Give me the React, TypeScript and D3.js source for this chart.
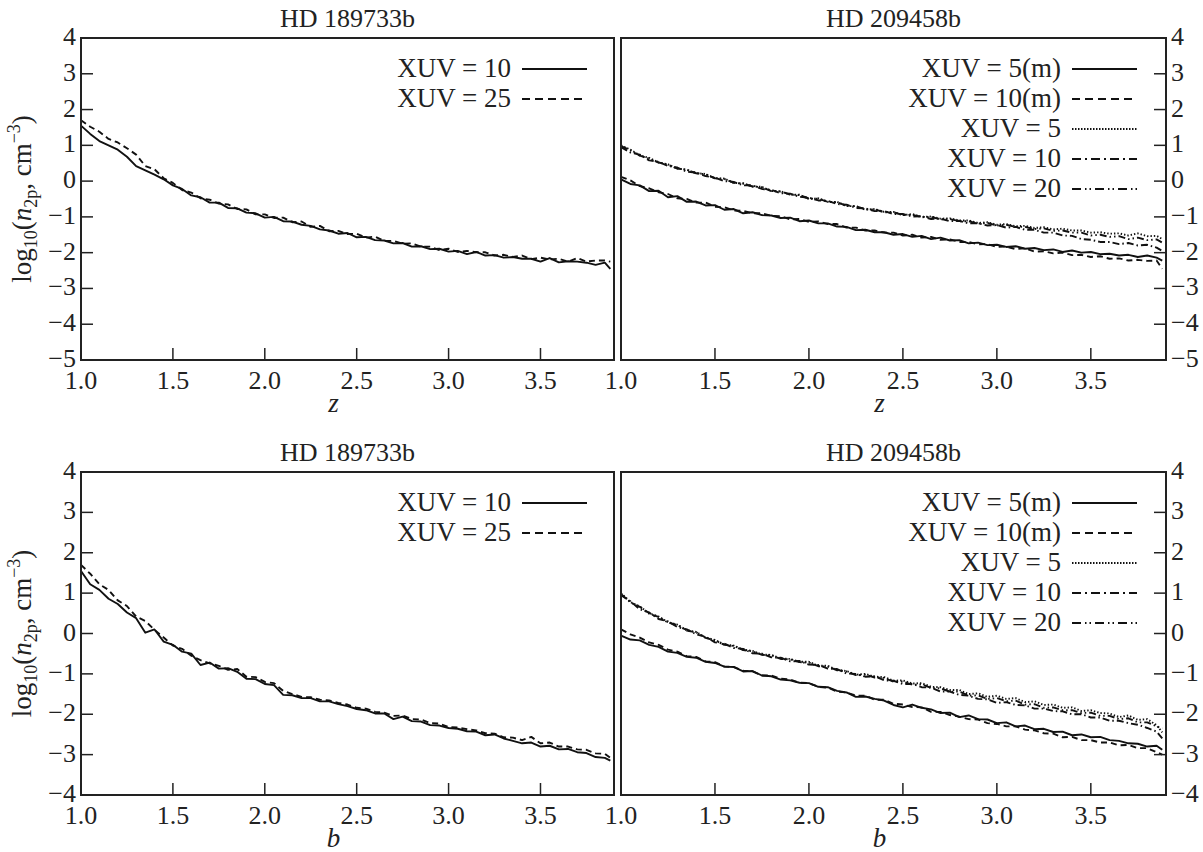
import * as d3 from "d3";
import React from "react";

// abscissa grid shared by every curve (z or b)
const GRID = [
  1.0, 1.05, 1.1, 1.15, 1.2, 1.25, 1.3, 1.35, 1.4, 1.45, 1.5, 1.55, 1.6, 1.65, 1.7, 1.75, 1.8, 1.85, 1.9, 1.95,
  2.0, 2.05, 2.1, 2.15, 2.2, 2.25, 2.3, 2.35, 2.4, 2.45, 2.5, 2.55, 2.6, 2.65, 2.7, 2.75, 2.8, 2.85, 2.9, 2.95,
  3.0, 3.05, 3.1, 3.15, 3.2, 3.25, 3.3, 3.35, 3.4, 3.45, 3.5, 3.55, 3.6, 3.65, 3.7, 3.75, 3.8, 3.85, 3.88,
];

// HD 189733b, z
const tlXuv10 = [
  1.55, 1.32, 1.12, 1.0, 0.88, 0.68, 0.42, 0.3, 0.18, 0.05, -0.12, -0.22, -0.4, -0.45, -0.6, -0.6, -0.75, -0.76, -0.88, -0.9,
  -1.02, -1.0, -1.12, -1.13, -1.22, -1.25, -1.35, -1.38, -1.47, -1.45, -1.57, -1.56, -1.65, -1.66, -1.74, -1.73, -1.83, -1.82, -1.9, -1.89,
  -1.97, -1.95, -2.04, -1.98, -2.08, -2.07, -2.14, -2.12, -2.17, -2.17, -2.25, -2.15, -2.27, -2.24, -2.25, -2.28, -2.34, -2.28, -2.45,
];
const tlXuv25 = [
  1.7, 1.52, 1.38, 1.18, 1.08, 0.92, 0.74, 0.42, 0.33, 0.08, -0.05, -0.25, -0.32, -0.48, -0.52, -0.63, -0.65, -0.78, -0.79, -0.93,
  -0.93, -1.03, -1.02, -1.15, -1.13, -1.28, -1.25, -1.4, -1.39, -1.48, -1.47, -1.58, -1.55, -1.67, -1.67, -1.75, -1.74, -1.83, -1.83, -1.93,
  -1.89, -1.98, -1.95, -1.99, -1.99, -2.08, -2.06, -2.12, -2.08, -2.18, -2.14, -2.19, -2.17, -2.25, -2.15, -2.25, -2.22, -2.22, -2.25,
];

// HD 209458b, z
const trXuv5m = [
  0.05, -0.08, -0.12, -0.28, -0.27, -0.45, -0.42, -0.58, -0.57, -0.68, -0.67, -0.8, -0.78, -0.9, -0.87, -0.95, -0.96, -1.03, -1.02, -1.12,
  -1.1, -1.18, -1.18, -1.27, -1.28, -1.37, -1.36, -1.43, -1.43, -1.5, -1.48, -1.56, -1.53, -1.62, -1.58, -1.66, -1.65, -1.74, -1.72, -1.79,
  -1.78, -1.84, -1.82, -1.89, -1.87, -1.93, -1.91, -1.98, -1.94, -2.0, -1.98, -2.04, -2.03, -2.08, -2.06, -2.12, -2.08, -2.14, -2.22,
];
const trXuv10m = [
  0.12, 0.02, -0.14, -0.2, -0.31, -0.36, -0.48, -0.5, -0.6, -0.6, -0.72, -0.73, -0.82, -0.83, -0.9, -0.9, -0.97, -0.98, -1.07, -1.06,
  -1.14, -1.13, -1.2, -1.2, -1.3, -1.3, -1.38, -1.38, -1.44, -1.44, -1.52, -1.5, -1.58, -1.56, -1.64, -1.63, -1.7, -1.7, -1.77, -1.76,
  -1.84, -1.83, -1.9, -1.88, -1.97, -1.96, -2.02, -2.0, -2.07, -2.06, -2.12, -2.1, -2.17, -2.16, -2.22, -2.2, -2.23, -2.22, -2.45,
];
const trXuv5 = [
  1.0, 0.88, 0.72, 0.65, 0.52, 0.47, 0.35, 0.32, 0.22, 0.2, 0.08, 0.07, -0.05, -0.06, -0.15, -0.16, -0.28, -0.28, -0.38, -0.38,
  -0.5, -0.48, -0.58, -0.58, -0.7, -0.7, -0.8, -0.78, -0.86, -0.86, -0.95, -0.92, -1.0, -0.99, -1.05, -1.04, -1.1, -1.1, -1.17, -1.15,
  -1.22, -1.2, -1.26, -1.25, -1.31, -1.29, -1.35, -1.33, -1.38, -1.38, -1.44, -1.43, -1.47, -1.46, -1.52, -1.46, -1.54, -1.53, -1.62,
];
const trXuv10 = [
  0.95, 0.8, 0.74, 0.58, 0.54, 0.42, 0.38, 0.26, 0.24, 0.14, 0.1, 0.0, -0.02, -0.12, -0.12, -0.22, -0.24, -0.34, -0.35, -0.44,
  -0.46, -0.54, -0.55, -0.64, -0.66, -0.75, -0.76, -0.84, -0.84, -0.92, -0.92, -0.99, -0.98, -1.06, -1.05, -1.12, -1.11, -1.18, -1.18, -1.24,
  -1.23, -1.3, -1.28, -1.36, -1.36, -1.44, -1.44, -1.52, -1.53, -1.62, -1.64, -1.7, -1.7, -1.76, -1.73, -1.8, -1.78, -1.86, -1.95,
];
const trXuv20 = [
  0.98, 0.86, 0.71, 0.63, 0.52, 0.46, 0.35, 0.32, 0.22, 0.19, 0.08, 0.06, -0.05, -0.07, -0.15, -0.17, -0.28, -0.29, -0.38, -0.39,
  -0.49, -0.49, -0.58, -0.59, -0.69, -0.7, -0.79, -0.79, -0.87, -0.87, -0.95, -0.94, -1.01, -1.0, -1.07, -1.06, -1.12, -1.12, -1.19, -1.17,
  -1.24, -1.22, -1.28, -1.28, -1.34, -1.32, -1.39, -1.38, -1.44, -1.44, -1.52, -1.5, -1.56, -1.54, -1.62, -1.58, -1.65, -1.63, -1.72,
];

// HD 189733b, b
const blXuv10 = [
  1.55, 1.22, 1.08, 0.86, 0.73, 0.52, 0.38, 0.02, 0.1, -0.2, -0.28, -0.45, -0.5, -0.78, -0.72, -0.87, -0.86, -0.95, -1.12, -1.13,
  -1.25, -1.28, -1.52, -1.53, -1.6, -1.6, -1.68, -1.68, -1.75, -1.8, -1.87, -1.9, -1.98, -1.98, -2.12, -2.06, -2.17, -2.18, -2.27, -2.28,
  -2.34, -2.36, -2.42, -2.43, -2.52, -2.5, -2.6, -2.66, -2.72, -2.7, -2.8, -2.78, -2.87, -2.86, -2.94, -2.96, -3.06, -3.08, -3.15,
];
const blXuv25 = [
  1.7, 1.48, 1.22, 1.08, 0.82, 0.68, 0.42, 0.31, 0.09, -0.1, -0.3, -0.38, -0.55, -0.66, -0.74, -0.8, -0.9, -0.88, -1.07, -1.08,
  -1.2, -1.23, -1.42, -1.5, -1.57, -1.58, -1.64, -1.66, -1.72, -1.76, -1.84, -1.86, -1.94, -1.96, -2.04, -2.03, -2.12, -2.13, -2.22, -2.23,
  -2.32, -2.33, -2.37, -2.4, -2.47, -2.48, -2.57, -2.58, -2.64, -2.56, -2.72, -2.7, -2.8, -2.8, -2.87, -2.88, -2.97, -2.98, -3.08,
];

// HD 209458b, b
const brXuv5m = [
  -0.05, -0.15, -0.17, -0.28, -0.33, -0.45, -0.48, -0.58, -0.6, -0.7, -0.73, -0.82, -0.83, -0.94, -0.93, -1.04, -1.06, -1.14, -1.16, -1.22,
  -1.23, -1.32, -1.33, -1.42, -1.46, -1.57, -1.56, -1.62, -1.66, -1.77, -1.83, -1.76, -1.84, -1.88, -1.97, -1.96, -2.07, -2.03, -2.12, -2.13,
  -2.22, -2.2, -2.3, -2.28, -2.37, -2.36, -2.44, -2.43, -2.52, -2.5, -2.57, -2.56, -2.64, -2.66, -2.72, -2.73, -2.8, -2.78, -2.88,
];
const brXuv10m = [
  0.1, -0.02, -0.1, -0.22, -0.28, -0.4, -0.45, -0.56, -0.58, -0.69, -0.71, -0.82, -0.83, -0.92, -0.94, -1.04, -1.04, -1.12, -1.14, -1.22,
  -1.23, -1.32, -1.34, -1.44, -1.46, -1.54, -1.54, -1.64, -1.64, -1.74, -1.76, -1.82, -1.83, -1.94, -1.94, -2.02, -2.06, -2.12, -2.13, -2.22,
  -2.24, -2.3, -2.3, -2.38, -2.4, -2.47, -2.48, -2.57, -2.56, -2.64, -2.64, -2.7, -2.7, -2.77, -2.76, -2.84, -2.84, -2.94, -3.0,
];
const brXuv5 = [
  1.0, 0.78, 0.67, 0.5, 0.42, 0.28, 0.22, 0.08, 0.04, -0.1, -0.16, -0.27, -0.3, -0.4, -0.43, -0.52, -0.53, -0.62, -0.63, -0.7,
  -0.7, -0.8, -0.8, -0.9, -0.93, -1.02, -1.0, -1.07, -1.08, -1.17, -1.16, -1.24, -1.23, -1.32, -1.33, -1.4, -1.4, -1.5, -1.48, -1.57,
  -1.54, -1.62, -1.6, -1.7, -1.68, -1.77, -1.76, -1.84, -1.83, -1.92, -1.9, -1.97, -1.98, -2.07, -2.03, -2.14, -2.12, -2.27, -2.45,
];
const brXuv10 = [
  0.95, 0.8, 0.6, 0.52, 0.36, 0.3, 0.16, 0.1, -0.02, -0.08, -0.22, -0.25, -0.36, -0.38, -0.49, -0.5, -0.59, -0.6, -0.69, -0.68,
  -0.77, -0.78, -0.87, -0.88, -0.99, -1.0, -1.07, -1.06, -1.16, -1.17, -1.25, -1.25, -1.33, -1.34, -1.44, -1.44, -1.52, -1.54, -1.62, -1.63,
  -1.72, -1.7, -1.77, -1.78, -1.86, -1.86, -1.92, -1.93, -2.0, -2.0, -2.08, -2.08, -2.16, -2.16, -2.22, -2.26, -2.34, -2.43, -2.6,
];
const brXuv20 = [
  0.98, 0.77, 0.66, 0.49, 0.41, 0.27, 0.21, 0.07, 0.03, -0.11, -0.17, -0.28, -0.31, -0.41, -0.44, -0.53, -0.54, -0.63, -0.64, -0.71,
  -0.72, -0.81, -0.82, -0.91, -0.94, -1.03, -1.02, -1.09, -1.1, -1.19, -1.19, -1.27, -1.26, -1.35, -1.36, -1.44, -1.44, -1.54, -1.53, -1.62,
  -1.6, -1.68, -1.66, -1.76, -1.75, -1.84, -1.83, -1.9, -1.9, -1.97, -1.96, -2.04, -2.04, -2.12, -2.1, -2.2, -2.2, -2.3, -2.35,
];

const xTicks = [1.0, 1.5, 2.0, 2.5, 3.0, 3.5];
const yTicksTop = [4, 3, 2, 1, 0, -1, -2, -3, -4, -5];
const yTicksBottom = [4, 3, 2, 1, 0, -1, -2, -3, -4];

const DASH: Record<string, string> = {
  solid: "none",
  dashed: "6,4",
  dotted: "1.4,2",
  dashdot: "7,3,1.5,3",
  dashdotdot: "7,3,1.5,3,1.5,3",
};
const LEGEND_DASH: Record<string, string> = {
  solid: "none",
  dashed: "8,5",
  dotted: "1.5,1.5",
  dashdot: "9,4,2,4",
  dashdotdot: "9,4,1.5,3,1.5,4",
};

const FONT = "'Liberation Serif', 'Times New Roman', serif";
const INK = "#222";

type Series = { label: string; values: number[]; style: string };

const fmtNum = (v: number) => (v < 0 ? "\u2212" + Math.abs(v) : String(v));

function Panel({ x0, x1, y0, y1, yDomain, yTicks, side, series, legendRight, title, xLabel, yLabel }: any) {
  const x = d3.scaleLinear().domain([1, 3.9]).range([x0, x1]);
  const y = d3.scaleLinear().domain(yDomain).range([y1, y0]);
  const line = d3
    .line<number>()
    .x((d, i) => x(GRID[i]))
    .y((d) => y(d));
  const cx = (x0 + x1) / 2;

  return (
    <g>
      <text x={cx} y={y0 - 11} textAnchor="middle" fontSize={26} fill={INK}>
        {title}
      </text>

      {series.map((s: Series) => (
        <path
          key={s.label}
          d={line(s.values) || ""}
          fill="none"
          stroke="#111"
          strokeWidth={1.9}
          strokeDasharray={DASH[s.style]}
          strokeLinejoin="round"
        />
      ))}

      <rect x={x0} y={y0} width={x1 - x0} height={y1 - y0} fill="none" stroke={INK} strokeWidth={2} />

      {xTicks.map((t) => (
        <g key={"x" + t}>
          <line x1={x(t)} x2={x(t)} y1={y1} y2={y1 - 12} stroke={INK} strokeWidth={1.5} />
          <text x={x(t)} y={y1 + 29} textAnchor="middle" fontSize={26} fill={INK}>
            {t.toFixed(1)}
          </text>
        </g>
      ))}

      {yTicks.map((t: number) =>
        side === "left" ? (
          <g key={"y" + t}>
            <line x1={x0} x2={x0 + 12} y1={y(t)} y2={y(t)} stroke={INK} strokeWidth={1.5} />
            <text x={x0 - 5} y={y(t) + 7} textAnchor="end" fontSize={26} fill={INK}>
              {fmtNum(t)}
            </text>
          </g>
        ) : (
          <g key={"y" + t}>
            <line x1={x1} x2={x1 - 12} y1={y(t)} y2={y(t)} stroke={INK} strokeWidth={1.5} />
            <text x={x1 + 5} y={y(t) + 7} textAnchor="start" fontSize={26} fill={INK}>
              {fmtNum(t)}
            </text>
          </g>
        )
      )}

      {series.map((s: Series, i: number) => {
        const ly = y0 + 31 + i * 30;
        return (
          <g key={"lg" + s.label}>
            <text x={legendRight} y={ly + 8} textAnchor="end" fontSize={27} fill={INK}>
              {s.label}
            </text>
            <line
              x1={legendRight + 11}
              x2={legendRight + 76}
              y1={ly}
              y2={ly}
              stroke="#111"
              strokeWidth={1.9}
              strokeDasharray={LEGEND_DASH[s.style]}
            />
          </g>
        );
      })}

      <text x={cx - 14} y={y1 + 52} textAnchor="middle" fontSize={27} fontStyle="italic" fill={INK}>
        {xLabel}
      </text>

      {yLabel && (
        <text transform={`translate(31,${(y0 + y1) / 2}) rotate(-90)`} textAnchor="middle" fontSize={27} fill={INK}>
          log
          <tspan dy={6} fontSize={18}>10</tspan>
          <tspan dy={-6}>(</tspan>
          <tspan fontStyle="italic">n</tspan>
          <tspan dy={6} fontSize={18}>2p</tspan>
          <tspan dy={-6}>, cm</tspan>
          <tspan dy={-11} fontSize={18}>{"\u22123"}</tspan>
          <tspan dy={11}>)</tspan>
        </text>
      )}
    </g>
  );
}

export default function App() {
  const top = { y0: 38, y1: 360, yDomain: [-5, 4], yTicks: yTicksTop };
  const bottom = { y0: 472, y1: 795, yDomain: [-4, 4], yTicks: yTicksBottom };
  const left = { x0: 81, x1: 614, side: "left", legendRight: 511 };
  const right = { x0: 621, x1: 1166, side: "right", legendRight: 1061 };

  const s189z: Series[] = [
    { label: "XUV = 10", values: tlXuv10, style: "solid" },
    { label: "XUV = 25", values: tlXuv25, style: "dashed" },
  ];
  const s209z: Series[] = [
    { label: "XUV = 5(m)", values: trXuv5m, style: "solid" },
    { label: "XUV = 10(m)", values: trXuv10m, style: "dashed" },
    { label: "XUV = 5", values: trXuv5, style: "dotted" },
    { label: "XUV = 10", values: trXuv10, style: "dashdot" },
    { label: "XUV = 20", values: trXuv20, style: "dashdotdot" },
  ];
  const s189b: Series[] = [
    { label: "XUV = 10", values: blXuv10, style: "solid" },
    { label: "XUV = 25", values: blXuv25, style: "dashed" },
  ];
  const s209b: Series[] = [
    { label: "XUV = 5(m)", values: brXuv5m, style: "solid" },
    { label: "XUV = 10(m)", values: brXuv10m, style: "dashed" },
    { label: "XUV = 5", values: brXuv5, style: "dotted" },
    { label: "XUV = 10", values: brXuv10, style: "dashdot" },
    { label: "XUV = 20", values: brXuv20, style: "dashdotdot" },
  ];

  return (
    <svg width={1203} height={852} style={{ position: "absolute", left: 0, top: 0, background: "#fff" }} fontFamily={FONT}>
      <rect width={1203} height={852} fill="#fff" />
      <Panel {...left} {...top} series={s189z} title="HD 189733b" xLabel="z" yLabel />
      <Panel {...right} {...top} series={s209z} title="HD 209458b" xLabel="z" />
      <Panel {...left} {...bottom} series={s189b} title="HD 189733b" xLabel="b" yLabel />
      <Panel {...right} {...bottom} series={s209b} title="HD 209458b" xLabel="b" />
    </svg>
  );
}
